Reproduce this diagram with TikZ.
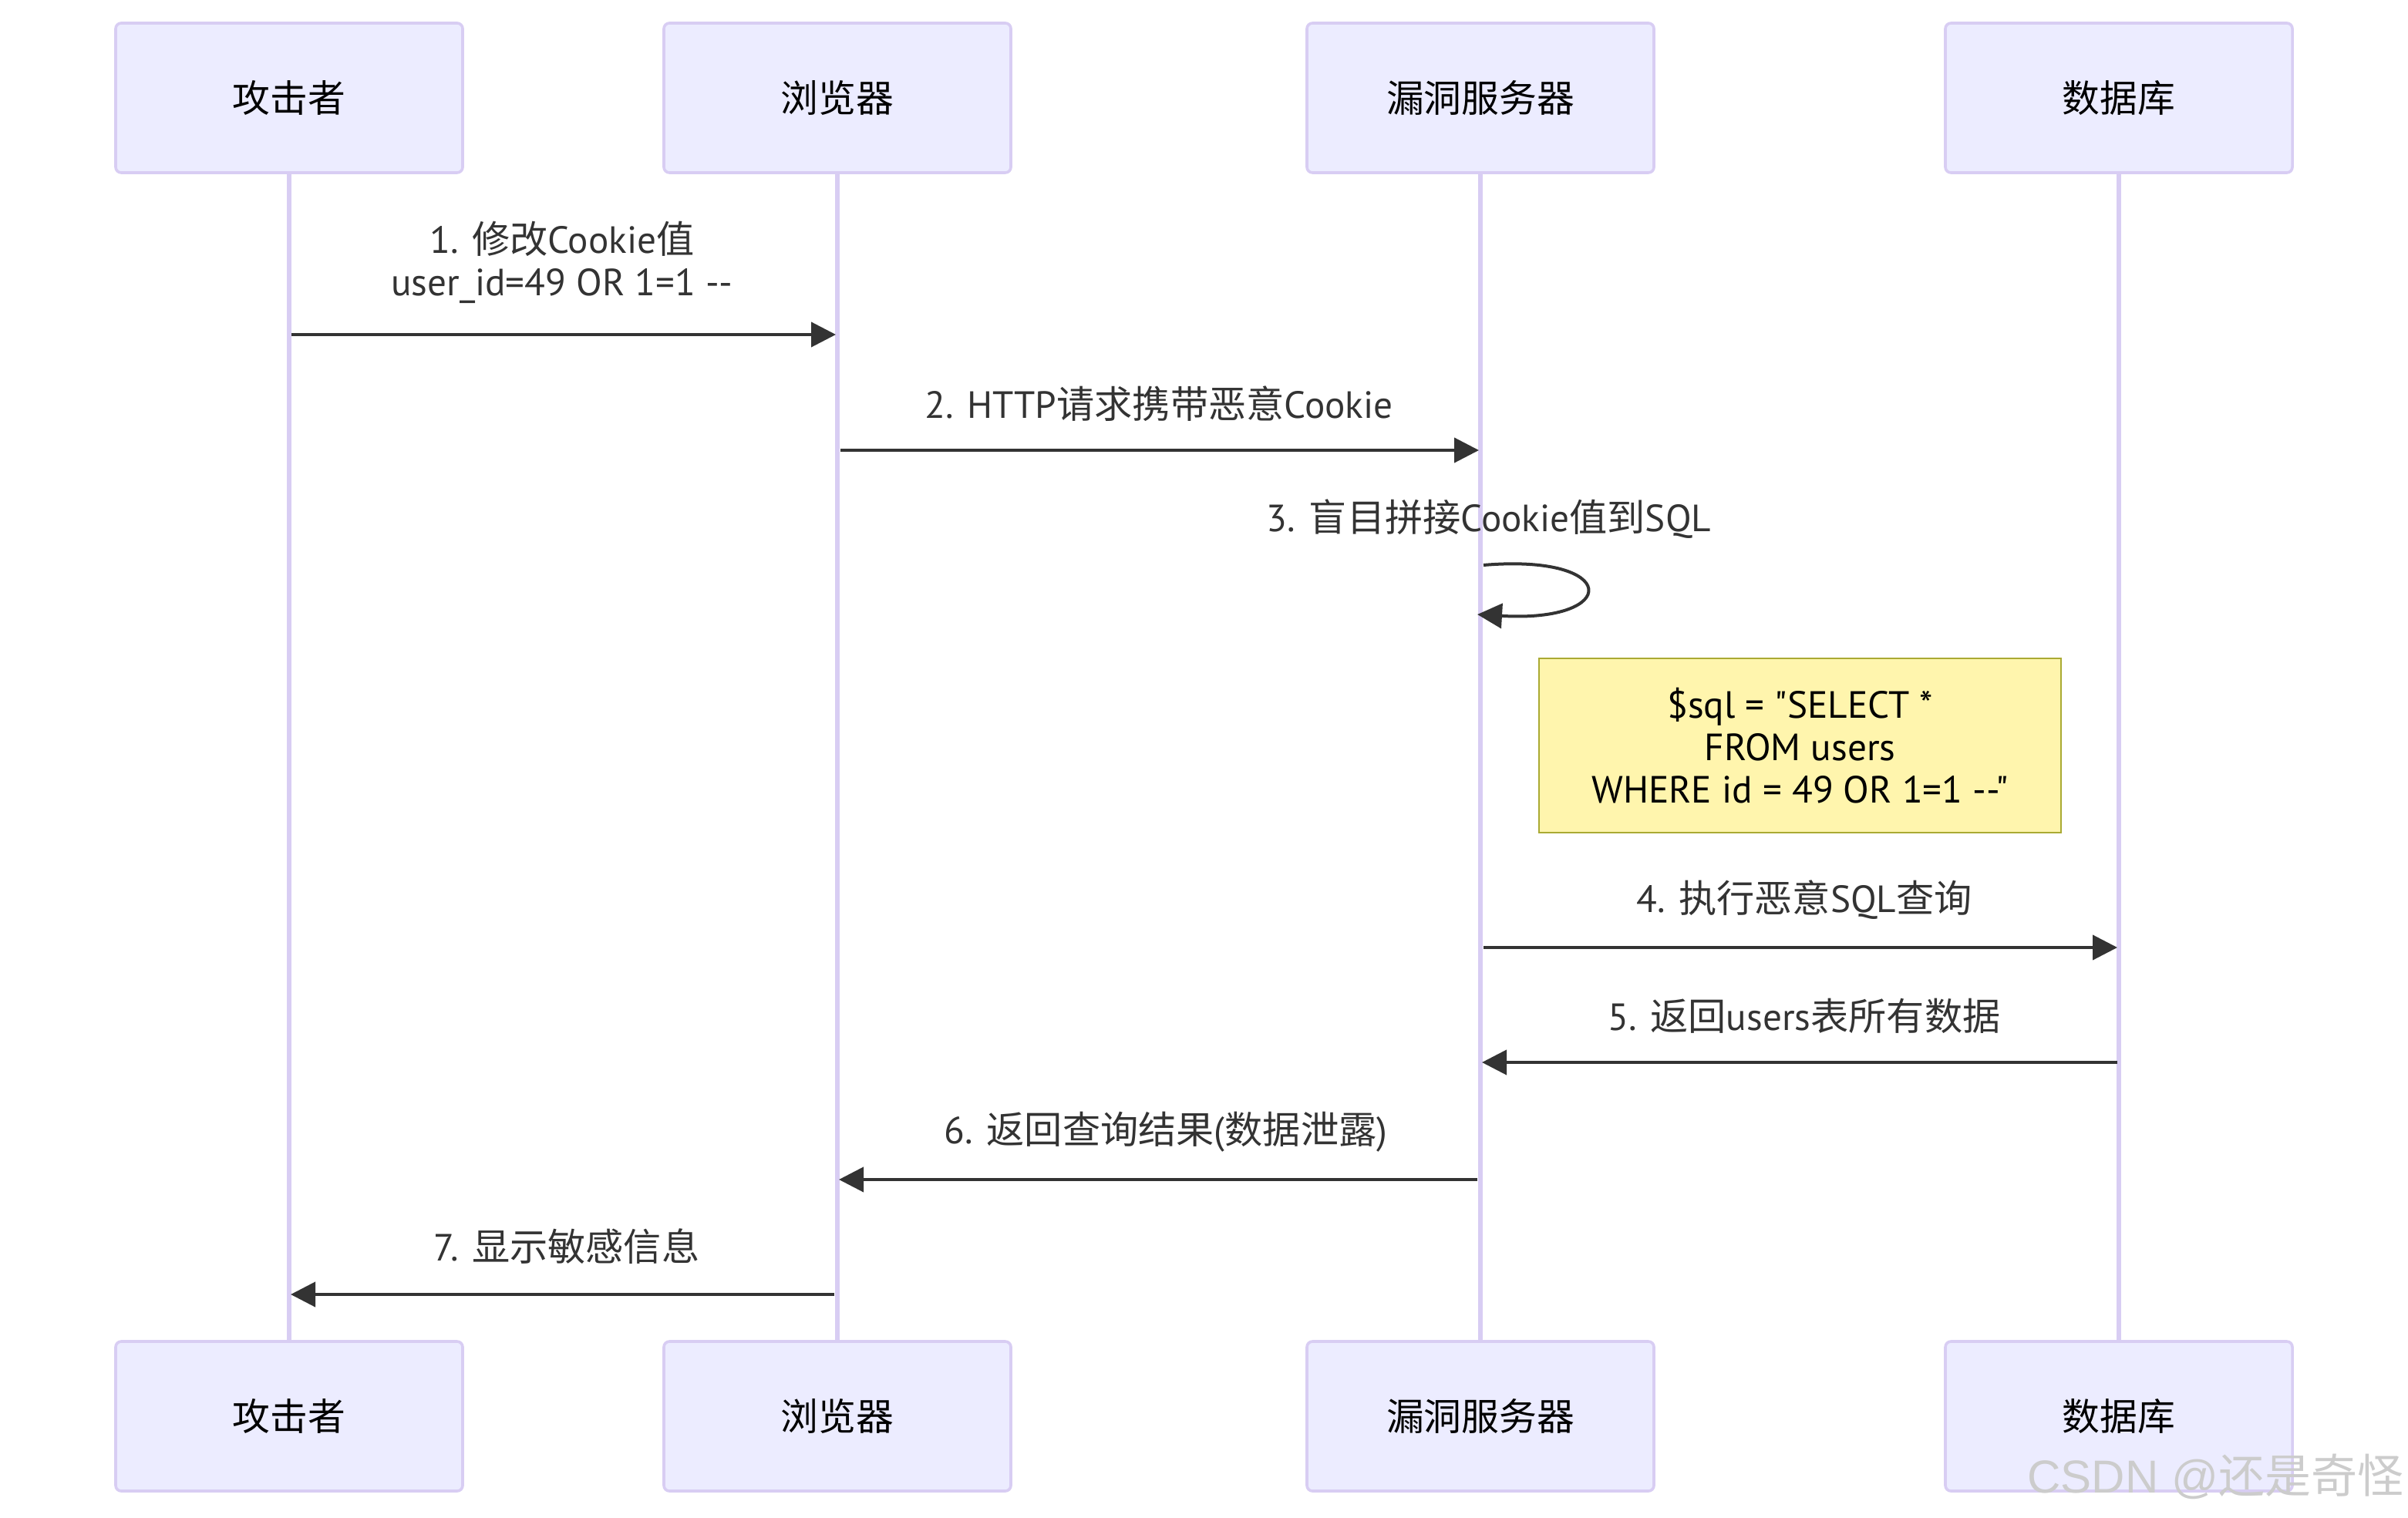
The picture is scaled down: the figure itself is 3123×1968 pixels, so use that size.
\documentclass[tikz,border=0pt]{standalone}
\usepackage{fontspec}
\setmainfont{PT Sans}[Ligatures=TeXOff]
\newfontfamily\cjk{Noto Sans CJK SC}
\newfontfamily\wmfont{Liberation Sans}
\usetikzlibrary{arrows.meta}
\definecolor{actorfill}{HTML}{ECECFF}
\definecolor{actorborder}{HTML}{D8CDF3}
\definecolor{lifeline}{HTML}{D8CDF3}
\definecolor{msgcol}{HTML}{333333}
\definecolor{notefill}{HTML}{FFF5AD}
\definecolor{noteborder}{HTML}{AAAA33}
\newcommand{\zh}[1]{{\cjk #1}}
\tikzset{
  actor/.style={draw=actorborder, fill=actorfill, line width=0.9pt, rounded corners=1.8pt,
    minimum width=112.5pt, minimum height=48.5pt, inner sep=0pt,
    font=\cjk\fontsize{12.2}{14}\selectfont, text=black},
  life/.style={draw=lifeline, line width=1.3pt},
  msg/.style={draw=msgcol, line width=1pt, -{Triangle[length=8pt,width=8pt]}},
  lbl/.style={font=\fontsize{12.3}{13.75}\selectfont, text=msgcol, align=center, inner sep=0pt},
  note/.style={draw=noteborder, fill=notefill, line width=0.7pt, minimum width=169.25pt,
    minimum height=56.5pt, inner sep=0pt, align=center, text=black,
    font=\fontsize{12.3}{13.75}\selectfont},
}
\begin{document}
\begin{tikzpicture}[x=0.25pt,y=-0.25pt]
\useasboundingbox (0,0) rectangle (3123,1968);
% actors top
\node[actor] (a1) at (375,127) {攻击者};
\node[actor] (a2) at (1086,127) {浏览器};
\node[actor] (a3) at (1920,127) {漏洞服务器};
\node[actor] (a4) at (2748,127) {数据库};
% actors bottom
\node[actor] (b1) at (375,1837) {攻击者};
\node[actor] (b2) at (1086,1837) {浏览器};
\node[actor] (b3) at (1920,1837) {漏洞服务器};
\node[actor] (b4) at (2748,1837) {数据库};
% lifelines
\draw[life] (a1.south) -- (b1.north);
\draw[life] (a2.south) -- (b2.north);
\draw[life] (a3.south) -- (b3.north);
\draw[life] (a4.south) -- (b4.north);
% message coordinates
\coordinate (m1s) at (378,434);  \coordinate (m1e) at (1084,434);
\coordinate (m2s) at (1090,584); \coordinate (m2e) at (1918,584);
\coordinate (l3s) at (1924,733); \coordinate (l3e) at (1916,797);
\coordinate (m4s) at (1924,1229); \coordinate (m4e) at (2746,1229);
\coordinate (m5s) at (2746,1378); \coordinate (m5e) at (1922,1378);
\coordinate (m6s) at (1916,1530); \coordinate (m6e) at (1088,1530);
\coordinate (m7s) at (1082,1679); \coordinate (m7e) at (377,1679);
% messages
\node[lbl] (t1) at (729,340) {1. \zh{修改}Cookie\zh{值}\\user\_id=49 OR 1=1 -{}-};
\draw[msg] (m1s) -- (m1e);
\node[lbl] (t2) at (1503,524) {2. HTTP\zh{请求携带恶意}Cookie};
\draw[msg] (m2s) -- (m2e);
\node[lbl] (t3) at (1931,673) {3. \zh{盲目拼接}Cookie\zh{值到}SQL};
\draw[msg] (l3s) .. controls (2102,718) and (2102,808) .. (l3e);
\node[note] (n1) at (2334.5,967) {\$sql = "SELECT *\\FROM users\\WHERE id = 49 OR 1=1 -{}-"};
\node[lbl] (t4) at (2340,1167) {4. \zh{执行恶意}SQL\zh{查询}};
\draw[msg] (m4s) -- (m4e);
\node[lbl] (t5) at (2340,1318) {5. \zh{返回}users\zh{表所有数据}};
\draw[msg] (m5s) -- (m5e);
\node[lbl] (t6) at (1512,1468) {6. \zh{返回查询结果}(\zh{数据泄露})};
\draw[msg] (m6s) -- (m6e);
\node[lbl] (t7) at (735,1617) {7. \zh{显示敏感信息}};
\draw[msg] (m7s) -- (m7e);
% watermark
\node[font=\wmfont\fontsize{15}{18}\selectfont, text=black!20, inner sep=0pt, anchor=east] (wm) at (3118,1915) {CSDN @\zh{还是奇怪}};
\end{tikzpicture}
\end{document}
